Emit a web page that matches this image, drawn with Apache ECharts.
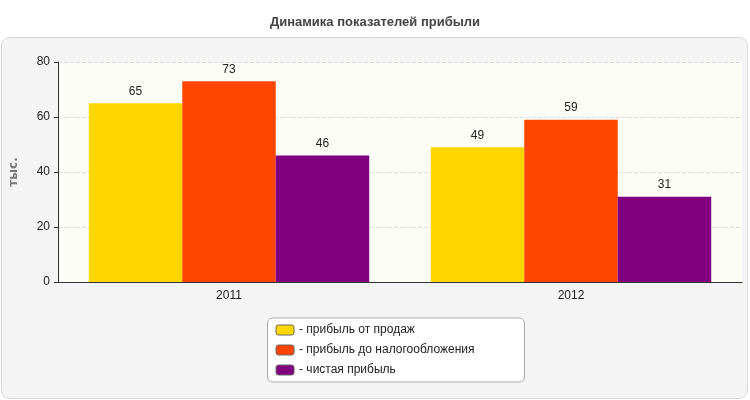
<!DOCTYPE html>
<html><head><meta charset="utf-8">
<script src="https://cdn.jsdelivr.net/npm/echarts@6/dist/echarts.min.js"></script>
<style>html,body{margin:0;padding:0;background:#fff}#c{width:750px;height:400px}</style>
</head><body><div id="c"></div>
<script>
const categories = ['2011', '2012'];
const seriesNames = ['прибыль от продаж', 'прибыль до налогообложения', 'чистая прибыль'];
const salesProfit = [65, 49];
const preTaxProfit = [73, 59];
const netProfit = [46, 31];
const colors = ['#FFD700', '#FF4500', '#800080'];
const values = [salesProfit, preTaxProfit, netProfit];

const chart = echarts.init(document.getElementById('c'));
chart.setOption({
  animation: false,
  textStyle: {fontFamily: 'Verdana, DejaVu Sans, sans-serif'},
  title: {text: 'Динамика показателей прибыли', left: 'center', top: 11,
    textStyle: {fontSize: 13, fontWeight: 'bold', color: '#444', fontFamily: 'Arial, Liberation Sans, sans-serif'}},
  graphic: [{type: 'rect', z: -10, shape: {x: 1.5, y: 37.5, width: 746, height: 361, r: 8},
    style: {fill: '#f4f4f4', stroke: '#d8d8d8', lineWidth: 1}},
    {type: 'rect', z: -9, shape: {x: 58, y: 62, width: 684, height: 220},
    style: {fill: '#fdfdf8'}}],
  grid: {left: 58, right: 8, top: 62, bottom: 118},
  legend: {orient: 'vertical', left: 'center', top: 318, itemWidth: 18, itemHeight: 10, itemGap: 8,
    backgroundColor: '#fff', borderColor: '#aaa', borderWidth: 1, borderRadius: 5,
    padding: [6, 50, 6, 8], formatter: n => '- ' + n,
    textStyle: {fontSize: 12, color: '#222', fontFamily: 'Arial, Liberation Sans, sans-serif'},
    data: seriesNames.map(n => ({name: n, icon: 'roundRect', itemStyle: {borderColor: '#666', borderWidth: 1}}))},
  xAxis: {type: 'category', data: categories,
    axisLine: {lineStyle: {color: '#333'}}, axisTick: {show: false},
    axisLabel: {color: '#222', fontSize: 12, fontFamily: 'Arial, Liberation Sans, sans-serif'}},
  yAxis: {type: 'value', min: 0, max: 80, interval: 20, name: 'тыс.', nameLocation: 'middle', nameGap: 38,
    nameTextStyle: {color: '#777', fontWeight: 'bold', fontSize: 12},
    axisLine: {show: true, lineStyle: {color: '#333'}}, axisTick: {show: true, length: 4},
    axisLabel: {color: '#222', fontSize: 12, fontFamily: 'Arial, Liberation Sans, sans-serif'},
    splitLine: {lineStyle: {color: '#ddd', type: 'dashed'}}},
  series: seriesNames.map((n, i) => ({
    name: n, type: 'bar', data: values[i], barGap: '0%', barCategoryGap: '18%',
    itemStyle: {color: colors[i]},
    label: {show: true, position: 'top', distance: 6, color: '#222', fontSize: 12, fontFamily: 'Arial, Liberation Sans, sans-serif'}
  }))
});
</script></body></html>
